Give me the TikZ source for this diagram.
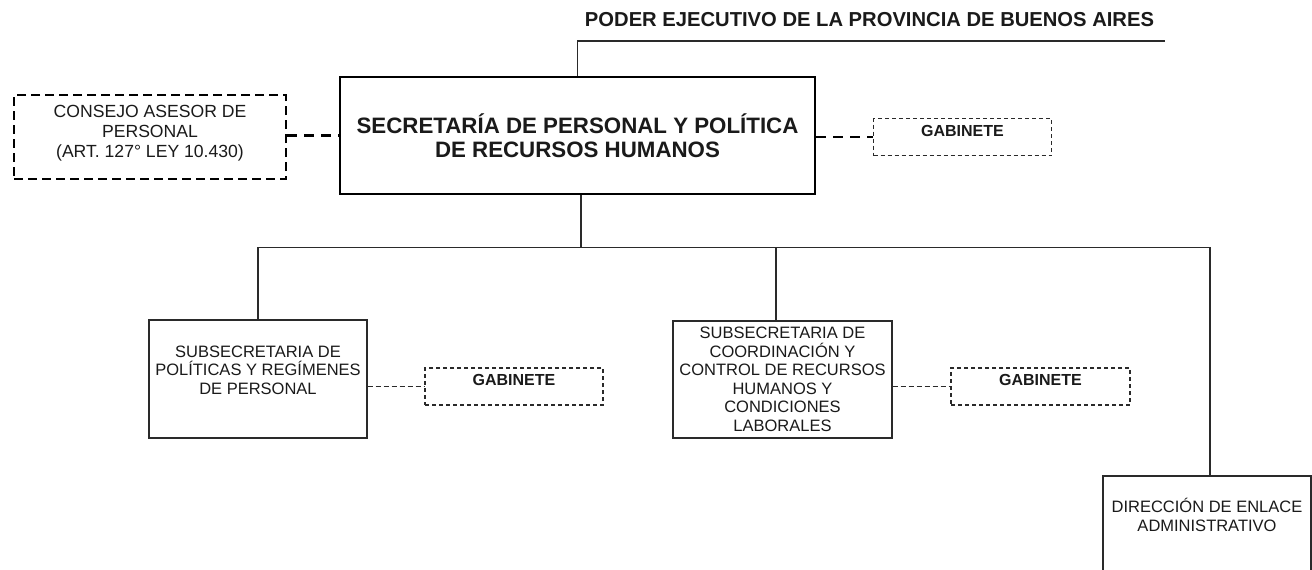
\documentclass[tikz,border=0pt]{standalone}
\usepackage{fontspec}
\setmainfont{Liberation Sans}
\definecolor{linec}{HTML}{2A2A2A}
\definecolor{textc}{HTML}{1A1A1A}
\begin{document}
\begin{tikzpicture}[x=1pt,y=-1pt,
  thinline/.style={draw=linec, line width=1.2pt},
  secbox/.style={draw=black, line width=2.7pt, minimum width=475pt, minimum height=117pt, inner sep=0pt,
     align=center, text=textc, font=\bfseries\fontsize{22.3}{23.5}\selectfont},
  consbox/.style={draw=black, line width=2.5pt, dash pattern=on 9pt off 5pt, minimum width=272pt, minimum height=84pt,
     inner sep=0pt},
  gabbox/.style={draw=linec, line width=1.1pt, dash pattern=on 4pt off 3pt, minimum width=178pt, minimum height=37pt,
     inner sep=0pt, text=textc, font=\bfseries\fontsize{16}{18}\selectfont, text height=11.7pt, text depth=13pt},
  subbox/.style={thinline, minimum width=218pt, minimum height=118pt, inner sep=0pt},
  boxtext/.style={align=center, text=textc, font=\fontsize{16.5}{18.5}\selectfont, inner sep=0pt},
  constext/.style={align=center, text=textc, font=\fontsize{17.6}{20}\selectfont, inner sep=0pt},
  titletext/.style={text=textc, font=\bfseries\fontsize{20.2}{22}\selectfont, inner sep=0pt},
  thickdash/.style={draw=black, line width=2.5pt, dash pattern=on 10pt off 7pt},
  thindash/.style={draw=linec, line width=1.1pt, dash pattern=on 5pt off 3pt}
]
\useasboundingbox[fill=white] (0,0) rectangle (1312,570);

% title
\node[titletext] (title) at (869.5,20) {PODER EJECUTIVO DE LA PROVINCIA DE BUENOS AIRES};
\coordinate (topR) at (1165,41);

% main box
\node[secbox] (sec) at (577.5,135.5) {SECRETARÍA DE PERSONAL Y POLÍTICA\\DE RECURSOS HUMANOS};
\node[consbox] (cons) at (150,137) {};
\node[constext] (const) at ([yshift=3.5pt]cons.center) {CONSEJO ASESOR DE\\PERSONAL\\(ART. 127° LEY 10.430)};
\node[gabbox] (gab1) at (962.5,137) {GABINETE};

% sub boxes
\node[subbox] (subL) at (258,379) {};
\node[boxtext] (subLt) at ([yshift=9pt]subL.center) {SUBSECRETARIA DE\\POLÍTICAS Y REGÍMENES\\DE PERSONAL};
\node[gabbox] (gab2) at (514,386.5) {GABINETE};

\node[subbox, minimum width=219pt, minimum height=117pt] (subM) at (782.5,379.5) {};
\node[boxtext] (subMt) at (subM.center) {SUBSECRETARIA DE\\COORDINACIÓN Y\\CONTROL DE RECURSOS\\HUMANOS Y\\CONDICIONES\\LABORALES};
\node[gabbox, minimum width=179pt] (gab3) at (1040.5,386.5) {GABINETE};

\node[subbox, minimum width=208pt, minimum height=124pt] (dir) at (1207,538) {};
\node[boxtext] (dirt) at (1207,515) {DIRECCIÓN DE ENLACE\\ADMINISTRATIVO};

% connectors
\draw[thinline] (sec.north) -- (sec.north |- topR) -- (topR);
\coordinate (bus) at (581,247.5);
\draw[thinline] ([xshift=3.5pt]sec.south) -- (bus);
\draw[thinline] (subL.north) -- (subL.north |- bus) -| ([xshift=3pt]dir.north);
\draw[thinline] ([xshift=-6.5pt]subM.north) -- ([xshift=-6.5pt]subM.north |- bus);

\draw[thickdash] (cons.east |- sec.west) -- (sec.west);
\draw[thickdash] (sec.east |- gab1.west) -- (gab1.west);
\draw[thindash] (subL.east |- gab2.west) -- (gab2.west);
\draw[thindash] (subM.east |- gab3.west) -- (gab3.west);
\end{tikzpicture}
\end{document}
